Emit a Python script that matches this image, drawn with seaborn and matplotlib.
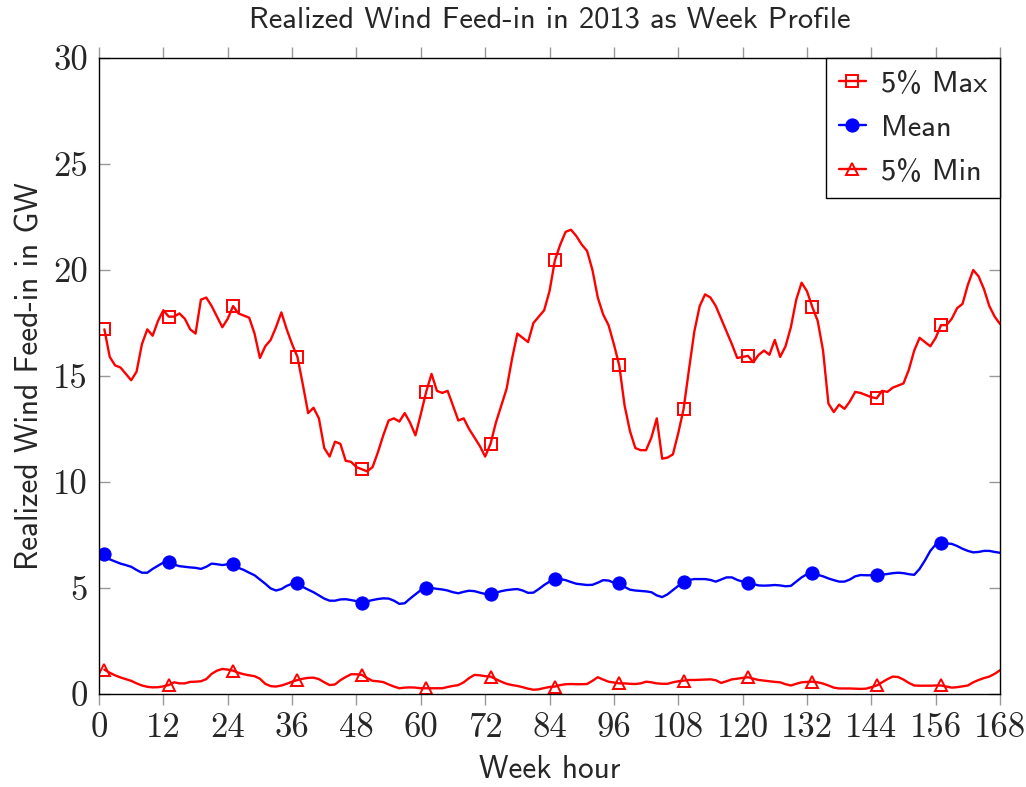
import numpy as np
import pandas as pd
import matplotlib.pyplot as plt
import seaborn as sns

# --- data (hour 1..168, GW) ---
hours = np.arange(1, 169)

max_5pct = [
    17.2, 15.9, 15.5, 15.4, 15.1, 14.8, 15.2, 16.5, 17.2, 16.9, 17.6, 18.1,
    17.8, 17.8, 17.95, 17.7, 17.2, 17.0, 18.6, 18.7, 18.3, 17.8, 17.3, 17.7,
    18.3, 17.95, 17.85, 17.75, 17.0, 15.85, 16.4, 16.7, 17.3, 18.0, 17.2, 16.5,
    15.9, 14.6, 13.25, 13.5, 13.0, 11.6, 11.2, 11.9, 11.8, 11.0, 10.95, 10.7,
    10.6, 10.5, 10.7, 11.4, 12.2, 12.9, 13.0, 12.85, 13.25, 12.8, 12.2, 13.2,
    14.25, 15.1, 14.3, 14.2, 14.3, 13.6, 12.9, 13.0, 12.5, 12.1, 11.7, 11.2,
    11.8, 12.8, 13.6, 14.4, 15.8, 17.0, 16.8, 16.6, 17.5, 17.8, 18.1, 19.0,
    20.45, 21.2, 21.8, 21.9, 21.6, 21.2, 20.9, 20.0, 18.7, 17.9, 17.4, 16.5,
    15.5, 13.6, 12.4, 11.6, 11.5, 11.5, 12.1, 13.0, 11.1, 11.15, 11.3, 12.3,
    13.45, 15.3, 17.1, 18.3, 18.85, 18.7, 18.3, 17.7, 17.1, 16.5, 15.85, 15.9,
    15.95, 15.65, 16.0, 16.2, 16.0, 16.7, 15.9, 16.4, 17.3, 18.6, 19.4, 19.0,
    18.25, 17.6, 16.2, 13.7, 13.3, 13.65, 13.45, 13.8, 14.25, 14.2, 14.1, 14.0,
    13.95, 14.3, 14.25, 14.45, 14.55, 14.65, 15.3, 16.2, 16.8, 16.6, 16.4, 16.8,
    17.4, 17.4, 17.7, 18.2, 18.4, 19.3, 20.0, 19.7, 19.1, 18.3, 17.8, 17.45,
]

mean_vals = [
    6.6, 6.35, 6.25, 6.15, 6.08, 6.0, 5.85, 5.72, 5.72, 5.9, 6.05, 6.2,
    6.24, 6.1, 6.03, 6.0, 5.97, 5.95, 5.9, 6.0, 6.15, 6.12, 6.08, 6.12,
    6.12, 5.95, 5.85, 5.72, 5.6, 5.4, 5.2, 4.98, 4.88, 4.95, 5.1, 5.2,
    5.22, 5.05, 4.92, 4.8, 4.65, 4.5, 4.4, 4.4, 4.46, 4.47, 4.43, 4.38,
    4.31, 4.37, 4.43, 4.48, 4.51, 4.5, 4.4, 4.25, 4.28, 4.5, 4.7, 4.9,
    5.01, 5.0, 4.96, 4.93, 4.88, 4.8, 4.75, 4.82, 4.87, 4.85, 4.78, 4.72,
    4.72, 4.78, 4.85, 4.9, 4.93, 4.95, 4.88, 4.77, 4.78, 4.95, 5.14, 5.3,
    5.42, 5.42, 5.37, 5.28, 5.2, 5.17, 5.14, 5.15, 5.25, 5.37, 5.35, 5.25,
    5.22, 5.05, 4.92, 4.88, 4.86, 4.84, 4.8, 4.65, 4.57, 4.7, 4.9, 5.1,
    5.27, 5.38, 5.42, 5.42, 5.42, 5.38, 5.3, 5.4, 5.5, 5.5, 5.38, 5.3,
    5.25, 5.18, 5.12, 5.11, 5.12, 5.14, 5.12, 5.08, 5.1, 5.3, 5.5, 5.65,
    5.72, 5.62, 5.55, 5.45, 5.37, 5.3, 5.3, 5.4, 5.55, 5.61, 5.6, 5.6,
    5.61, 5.63, 5.66, 5.7, 5.72, 5.7, 5.65, 5.62, 5.9, 6.3, 6.75, 7.05,
    7.14, 7.1, 7.08, 6.98, 6.85, 6.75, 6.68, 6.7, 6.75, 6.75, 6.7, 6.66,
]

min_5pct = [
    1.15, 1.0, 0.88, 0.78, 0.7, 0.62, 0.5, 0.4, 0.34, 0.31, 0.32, 0.36,
    0.42, 0.55, 0.5, 0.5, 0.57, 0.58, 0.6, 0.7, 0.95, 1.1, 1.18, 1.15,
    1.1, 1.0, 0.93, 0.88, 0.84, 0.72, 0.48, 0.37, 0.35, 0.4, 0.48, 0.58,
    0.66, 0.72, 0.76, 0.77, 0.7, 0.55, 0.42, 0.45, 0.65, 0.8, 0.93, 0.93,
    0.9, 0.75, 0.62, 0.6, 0.56, 0.45, 0.35, 0.27, 0.3, 0.31, 0.3, 0.27,
    0.27, 0.27, 0.27, 0.27, 0.33, 0.38, 0.42, 0.55, 0.75, 0.9, 0.88, 0.84,
    0.82, 0.7, 0.58, 0.48, 0.42, 0.38, 0.32, 0.25, 0.2, 0.22, 0.28, 0.33,
    0.35, 0.42, 0.46, 0.47, 0.46, 0.46, 0.47, 0.62, 0.79, 0.68, 0.58, 0.54,
    0.5, 0.5, 0.48, 0.47, 0.5, 0.58, 0.55, 0.5, 0.48, 0.48, 0.55, 0.6,
    0.63, 0.66, 0.66, 0.67, 0.68, 0.69, 0.65, 0.52, 0.6, 0.69, 0.72, 0.76,
    0.79, 0.72, 0.66, 0.63, 0.6, 0.57, 0.55, 0.46, 0.4, 0.48, 0.55, 0.57,
    0.58, 0.55, 0.49, 0.4, 0.3, 0.26, 0.26, 0.26, 0.25, 0.24, 0.25, 0.32,
    0.4, 0.55, 0.7, 0.82, 0.8, 0.68, 0.52, 0.4, 0.39, 0.39, 0.39, 0.4,
    0.4, 0.35, 0.3, 0.32, 0.36, 0.4, 0.55, 0.66, 0.75, 0.82, 0.95, 1.12,
]

x_ticks = list(range(0, 169, 12))
y_ticks = [0, 5, 10, 15, 20, 25, 30]

df = pd.DataFrame({'hour': hours, 'max': max_5pct, 'mean': mean_vals, 'min': min_5pct})

# --- plotting ---
sns.set_style('white')
plt.rcParams['font.family'] = ['cmss10', 'DejaVu Sans']
plt.rcParams['axes.unicode_minus'] = False

fig, ax = plt.subplots(figsize=(10.26, 7.87), dpi=100)
fig.subplots_adjust(left=0.0965, right=0.9747, top=0.9263, bottom=0.1182)

line_kw = dict(lw=1.7, markevery=12, solid_joinstyle='round', solid_capstyle='round')
sns.lineplot(data=df, x='hour', y='max', ax=ax, color='red', marker='s', ms=8.5,
             mfc='none', mec='red', mew=1.4, label='5% Max', **line_kw)
sns.lineplot(data=df, x='hour', y='mean', ax=ax, color='blue', marker='o', ms=9.5,
             mfc='blue', mec='blue', label='Mean', **line_kw)
sns.lineplot(data=df, x='hour', y='min', ax=ax, color='red', marker='^', ms=8.5,
             mfc='none', mec='red', mew=1.4, label='5% Min', **line_kw)

ax.set_xlim(0, 168)
ax.set_ylim(0, 30)
ax.set_xticks(x_ticks)
ax.set_yticks(y_ticks)
for lab in ax.get_xticklabels() + ax.get_yticklabels():
    lab.set_family('cmr10')
    lab.set_fontsize(25)

ax.tick_params(axis='x', direction='out', length=8, width=1, color='#999999',
               top=True, bottom=True, pad=5)
ax.tick_params(axis='y', direction='in', length=8, width=1, color='#999999',
               left=True, right=True, pad=8)
for sp in ax.spines.values():
    sp.set_color('black')
    sp.set_linewidth(1.0)

ax.set_xlabel('Week hour', fontsize=22.5, labelpad=8)
ax.set_ylabel('Realized Wind Feed-in in GW', fontsize=22.5, labelpad=6)
ax.set_title('Realized Wind Feed-in in 2013 as Week Profile', fontsize=22, pad=22)

leg = ax.legend(loc='upper right', borderaxespad=0, fontsize=22, frameon=True,
                fancybox=False, framealpha=1, edgecolor='black',
                handlelength=0.9, handletextpad=0.5, borderpad=0.4, labelspacing=0.55)
leg.get_frame().set_linewidth(1.0)

fig.savefig('out.png', dpi=100)
